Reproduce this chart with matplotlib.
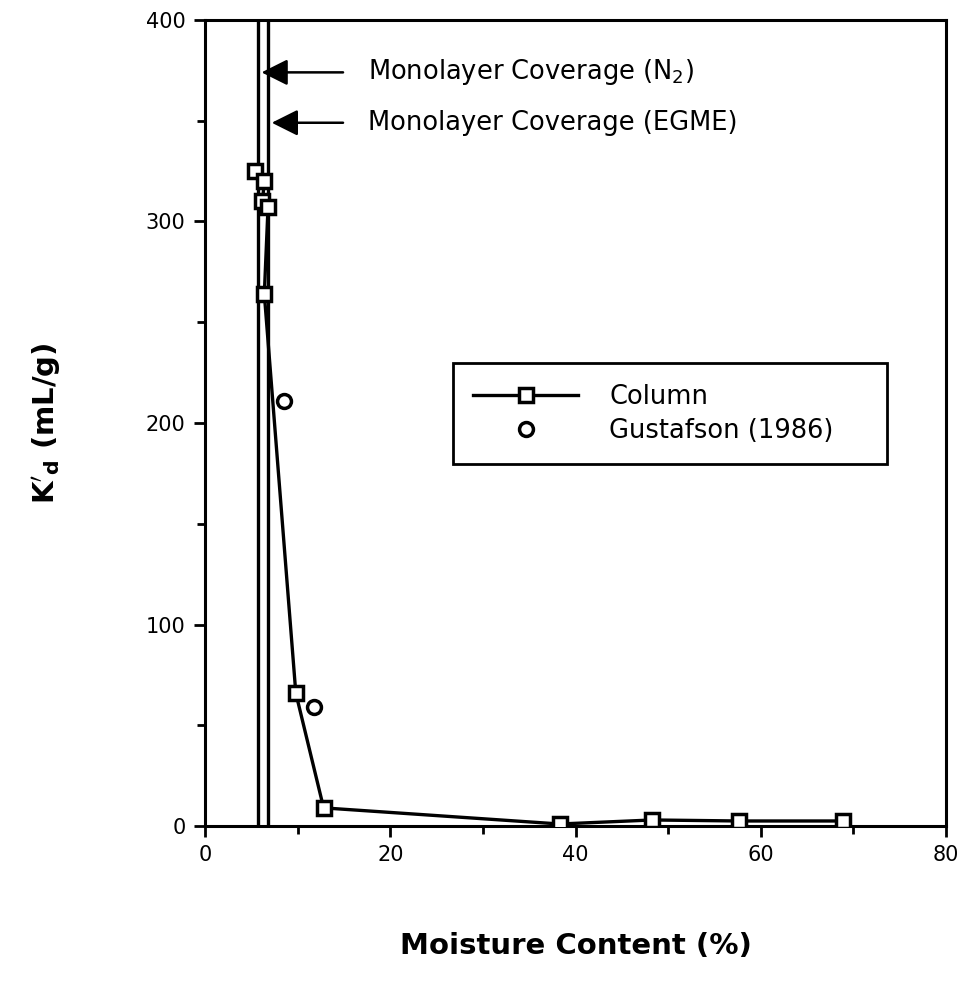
import numpy as np
import matplotlib
matplotlib.use('Agg')
import matplotlib.pyplot as plt

plt.rcParams['font.family'] = 'DejaVu Sans'
plt.rcParams['mathtext.default'] = 'regular'

# Column data
col_x = [5.4, 6.4, 6.2, 6.8, 6.4, 9.8, 12.8, 38.3, 48.3, 57.6, 68.9]
col_y = [325, 320, 310, 307, 264, 66, 9, 1, 3, 2.5, 2.5]

# Gustafson (1986)
gus_x = [8.5, 11.8]
gus_y = [211, 59]

# monolayer coverage lines
mono_x = [5.7, 6.8]
mono_lab = ['Monolayer Coverage (N$_2$)', 'Monolayer Coverage (EGME)']
mono_y = [374, 349]

fig = plt.figure(figsize=(9.64, 9.94), dpi=100)
ax = fig.add_axes([0.2127, 0.169, 0.7686, 0.8109])

for xv in mono_x:
    ax.axvline(xv, color='black', lw=2.4, zorder=1)

ax.plot(col_x, col_y, '-', color='black', lw=2.4, marker='s', ms=10,
        mfc='white', mec='black', mew=2.5, label='Column', zorder=3)
ax.plot(gus_x, gus_y, 'o', color='black', ms=10, mfc='white', mew=2.5,
        label='Gustafson (1986)', zorder=3)

for xv, lab, yv in zip(mono_x, mono_lab, mono_y):
    ax.annotate('', xy=(xv + 0.1, yv), xytext=(15.2, yv),
                arrowprops=dict(arrowstyle='-|>,head_length=1.6,head_width=0.8',
                                color='black', lw=1.8))
    ax.text(17.6, yv, lab, fontsize=18.5, va='center', ha='left')

ax.set_xlim(0, 80)
ax.set_ylim(0, 400)
ax.set_xticks([0, 20, 40, 60, 80])
ax.set_xticks([10, 30, 50, 70], minor=True)
ax.set_yticks([0, 100, 200, 300, 400])
ax.set_yticks([50, 150, 250, 350], minor=True)
ax.tick_params(which='major', length=8, width=2, labelsize=15, pad=6)
ax.tick_params(which='minor', length=6, width=2)
for s in ax.spines.values():
    s.set_linewidth(2.2)

ax.set_xlabel('Moisture Content (%)', fontsize=21, fontweight='bold', labelpad=48)
ax.set_ylabel(r"$\mathbf{K'_d}$ (mL/g)", fontsize=21, fontweight='bold', labelpad=60)

leg = ax.legend(loc='upper left', bbox_to_anchor=(0.334, 0.445, 0.587, 0.129),
                mode='expand', borderaxespad=0, fontsize=18.5, framealpha=1,
                frameon=True, fancybox=False, edgecolor='black', handlelength=4.1,
                borderpad=0.8, labelspacing=0.3, handletextpad=1.2)
leg.get_frame().set_linewidth(2)

fig.savefig('out.png', dpi=100)
